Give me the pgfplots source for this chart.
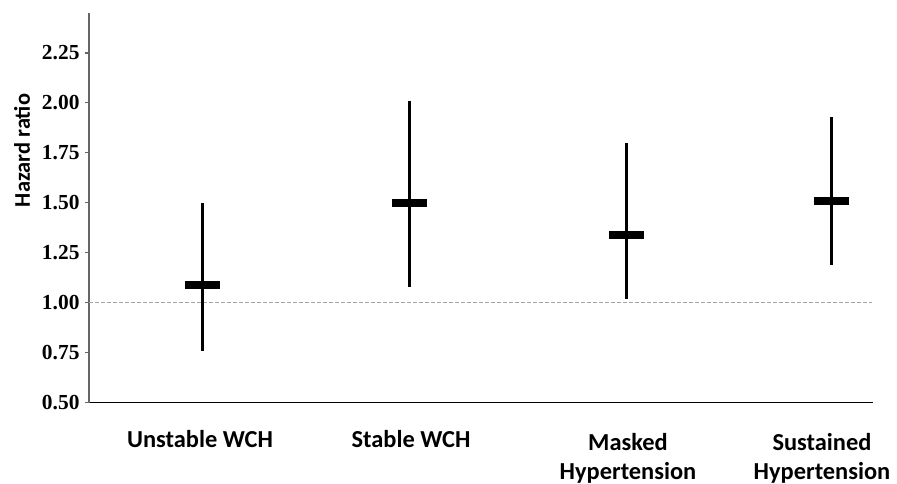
\documentclass[border=0pt]{standalone}
\usepackage{pgfplots}
\pgfplotsset{compat=1.18}
\usepackage{fontspec}
\setmainfont{Liberation Serif}
\newfontfamily\carlito{Carlito}
\begin{document}
\begin{tikzpicture}
\begin{axis}[
 name=ax,
 scale only axis,
 width=784bp, height=389.5bp,
 xmin=89, xmax=873, ymin=0.5, ymax=2.45,
 axis lines=left,
 x axis line style={-, black, line width=1.8bp},
 y axis line style={-, black!60, line width=2.6bp},
 ytick={0.5,0.75,1,1.25,1.5,1.75,2,2.25},
 /pgf/number format/fixed,
 /pgf/number format/fixed zerofill,
 /pgf/number format/precision=2,
 /pgf/number format/assume math mode=true,
 yticklabel style={font=\fontsize{21.5}{21.5}\selectfont\bfseries, xshift=-2bp},
 tick align=outside,
 major tick length=4bp,
 ytick style={black!60, line width=1.2bp},
 xtick={200,411},
 xticklabels={Unstable WCH, Stable WCH},
 xtick style={draw=none},
 xticklabel style={font=\carlito\bfseries\fontsize{24.5}{29}\selectfont, align=center, yshift=-20bp},
 extra x ticks={628,822},
 extra x tick labels={Masked\\Hypertension, Sustained\\Hypertension},
 extra x tick style={tick style={draw=none}, xticklabel style={yshift=-3bp}},
 ylabel={Hazard ratio},
 ylabel style={font=\carlito\bfseries\fontsize{22.5}{22.5}\selectfont, at={(axis description cs:0,0.647)}, anchor=center, yshift=67bp},
 clip=false,
]
\addplot[gray!70, line width=1.2bp, dash pattern=on 4bp off 2bp] coordinates {(89,1) (872,1)};
\addplot[only marks, black, mark=-, mark size=17.5bp, mark options={line width=8bp},
 error bars/.cd, y dir=both, y explicit, error mark=none,
 error bar style={line width=3bp, black}]
 table[x=x, y=y, y error plus=ep, y error minus=em] {
x y ep em
202 1.09 0.41 0.33
409 1.50 0.51 0.42
626 1.34 0.46 0.32
831 1.51 0.42 0.32
};
\end{axis}
\pgfresetboundingbox
\path[use as bounding box] ([xshift=-89bp,yshift=-81.5bp]ax.south west) rectangle ([xshift=24bp,yshift=13bp]ax.north east);
\end{tikzpicture}
\end{document}
